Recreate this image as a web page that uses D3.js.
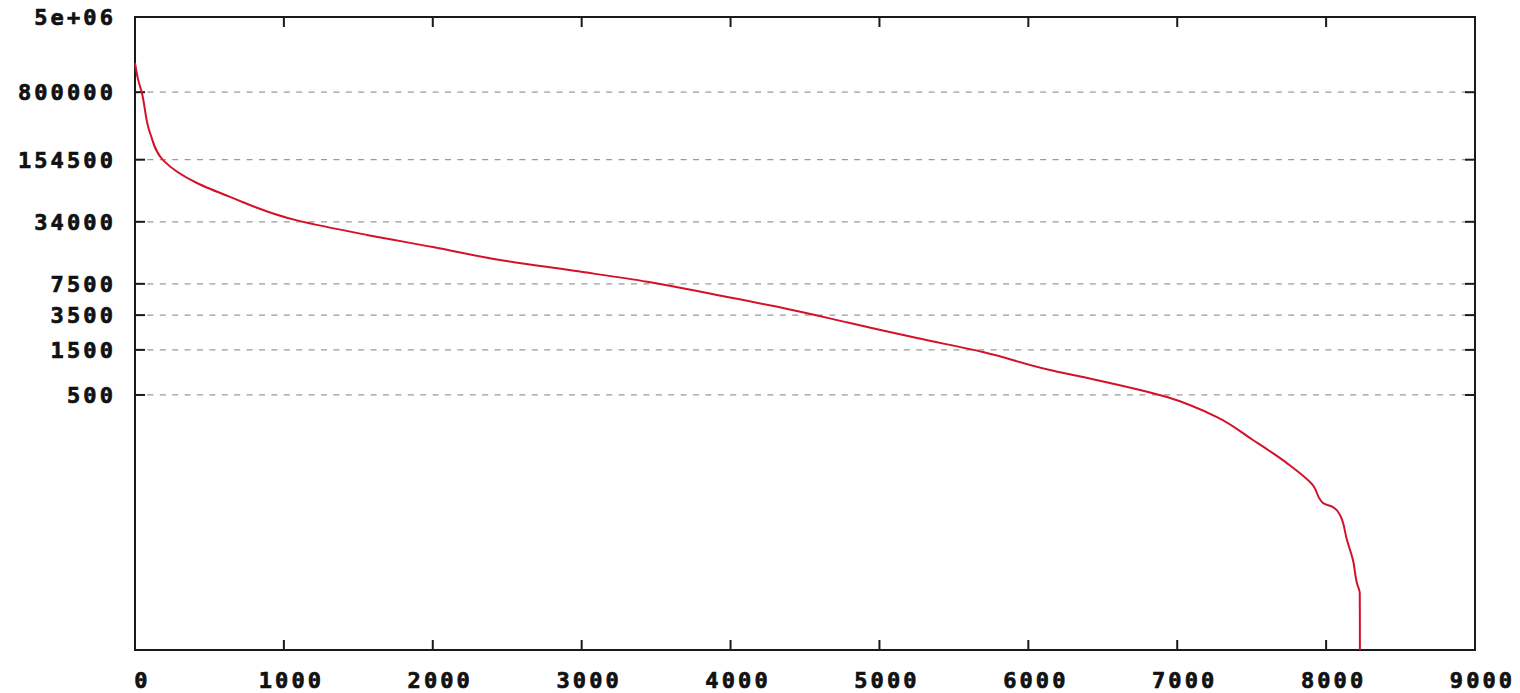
<!DOCTYPE html>
<html>
<head>
<meta charset="utf-8">
<script src="https://cdn.jsdelivr.net/npm/d3@7"></script>
<style>
  html, body { margin: 0; padding: 0; background: #fff; }
  svg { display: block; }
  .lbl { font-family: "DejaVu Sans Mono", monospace; font-weight: bold; font-size: 22px; letter-spacing: 3.1px; fill: #111; stroke: #111; stroke-width: 0.7px; }
</style>
</head>
<body>
<svg id="chart" width="1520" height="693"></svg>
<script>
// ---- data ----
const rank  = [0, 20, 45, 101, 190, 416, 638, 1088, 1558, 2001, 2451, 2950, 3440, 3909, 4352, 4802, 5252, 5695, 6145, 6367, 6931, 7267, 7508, 7737, 7911, 7979, 8046, 8093, 8140, 8180, 8207, 8226, 8227];
const count = [1630000, 1100000, 800000, 296000, 152000, 87500, 62400, 35200, 24700, 18400, 13400, 10300, 7900, 5710, 4160, 2890, 2000, 1425, 919, 774, 476, 292, 167, 95, 55.7, 36, 32.6, 26.8, 14.6, 9, 5.1, 4, 1];
const xTickValues = [0, 1000, 2000, 3000, 4000, 5000, 6000, 7000, 8000, 9000];
const xTickLabels = ["0", "1000", "2000", "3000", "4000", "5000", "6000", "7000", "8000", "9000"];
const yTickValues = [500, 1500, 3500, 7500, 34000, 154500, 800000, 5000000];
const yTickLabels = ["500", "1500", "3500", "7500", "34000", "154500", "800000", "5e+06"];

// ---- layout ----
const L = 135, R = 1475, T = 17, B = 650;
const svg = d3.select("#chart");

const x = d3.scaleLinear().domain([0, 9000]).range([L, R]);
const y = d3.scaleLog().domain([1, 5000000]).range([B, T]);

// grid lines
svg.append("g").selectAll("line").data(yTickValues).join("line")
  .attr("x1", L).attr("x2", R)
  .attr("y1", d => y(d)).attr("y2", d => y(d))
  .attr("stroke", "#9a9a9a").attr("stroke-width", 1.2)
  .attr("stroke-dasharray", "6,6.4");

// frame
svg.append("rect").attr("x", L).attr("y", T).attr("width", R - L).attr("height", B - T)
  .attr("fill", "none").attr("stroke", "#1a1a1a").attr("stroke-width", 2);

// ticks (inward, mirrored)
const tk = 10;
const tg = svg.append("g").attr("stroke", "#1a1a1a").attr("stroke-width", 2);
xTickValues.forEach(v => {
  tg.append("line").attr("x1", x(v)).attr("x2", x(v)).attr("y1", B).attr("y2", B - tk);
  tg.append("line").attr("x1", x(v)).attr("x2", x(v)).attr("y1", T).attr("y2", T + tk);
});
yTickValues.forEach(v => {
  tg.append("line").attr("x1", L).attr("x2", L + tk).attr("y1", y(v)).attr("y2", y(v));
  tg.append("line").attr("x1", R).attr("x2", R - tk).attr("y1", y(v)).attr("y2", y(v));
});

// labels
svg.append("g").selectAll("text").data(yTickValues).join("text")
  .attr("class", "lbl")
  .attr("x", 116).attr("y", d => y(d))
  .attr("dy", "0.36em")
  .attr("text-anchor", "end")
  .text((d, i) => yTickLabels[i]);

svg.append("g").selectAll("text").data(xTickValues).join("text")
  .attr("class", "lbl")
  .attr("x", d => x(d) + 7.5).attr("y", 688)
  .attr("text-anchor", "middle")
  .text((d, i) => xTickLabels[i]);

// data line
const pts = rank.map((r, i) => [r, count[i]]);
svg.append("path").datum(pts)
  .attr("fill", "none").attr("stroke", "#d4102a").attr("stroke-width", 2)
  .attr("d", d3.line().x(d => x(d[0])).y(d => y(d[1])).curve(d3.curveMonotoneY));
</script>
</body>
</html>
